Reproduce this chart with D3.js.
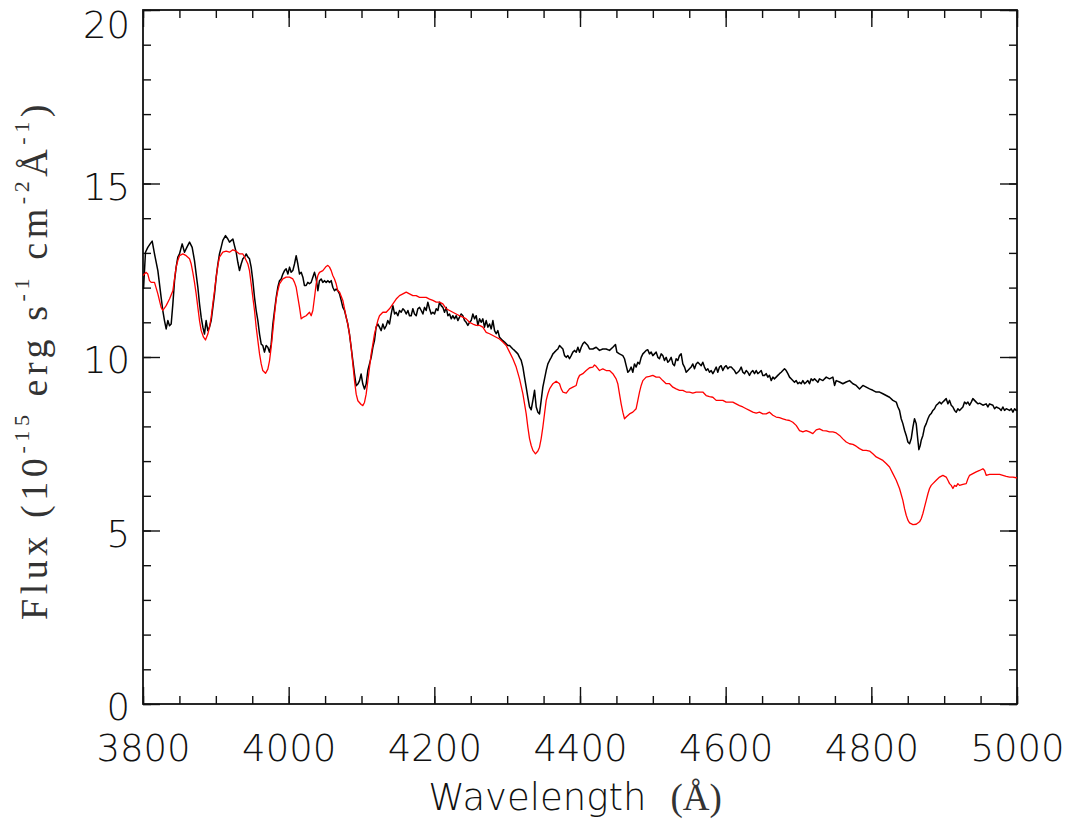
<!DOCTYPE html>
<html><head><meta charset="utf-8">
<script src="https://cdn.jsdelivr.net/npm/d3@7"></script>
<style>body{margin:0;background:#fff}svg{display:block}</style>
</head><body>
<svg id="chart" width="1077" height="827"></svg>
<script>
// ---- data (wavelength in Å, flux in 1e-15 erg s^-1 cm^-2 Å^-1) ----
const blackWave = [3800.7,3803.4,3806.6,3809.8,3812.6,3815.8,3820.4,3824.9,3827.2,3829.5,3831.8,3834.1,3836.4,3838.7,3841.0,3843.3,3845.5,3847.8,3850.1,3853.8,3857.0,3860.2,3863.9,3867.5,3870.7,3873.0,3875.3,3877.6,3879.9,3882.2,3884.4,3886.7,3889.0,3891.3,3893.6,3895.9,3898.2,3900.5,3902.8,3905.0,3907.3,3909.6,3913.3,3916.5,3918.8,3923.4,3925.6,3927.9,3930.2,3932.5,3934.8,3937.1,3939.4,3941.7,3944.0,3946.2,3948.5,3950.8,3953.1,3955.4,3957.7,3960.0,3962.3,3964.5,3966.8,3969.1,3971.4,3973.7,3976.0,3978.3,3980.6,3982.9,3985.1,3987.4,3989.7,3992.0,3994.3,3996.6,3998.9,4001.2,4003.4,4005.7,4008.0,4010.3,4012.6,4014.9,4017.2,4019.5,4021.7,4024.0,4026.3,4028.6,4030.9,4033.2,4035.5,4037.8,4040.1,4042.3,4044.6,4046.9,4049.2,4051.5,4053.8,4056.1,4058.4,4060.6,4062.9,4065.2,4067.5,4069.8,4072.1,4074.4,4076.7,4079.0,4081.2,4083.5,4085.8,4088.1,4090.4,4092.7,4095.0,4097.3,4099.5,4101.8,4104.1,4106.4,4108.7,4111.0,4113.3,4115.6,4117.8,4120.1,4122.4,4124.7,4127.0,4129.3,4131.6,4133.9,4136.1,4138.4,
4140.8,4143.1,4145.4,4147.6,4149.9,4152.2,4154.5,4156.8,4159.1,4161.4,4163.7,4165.9,4168.2,4170.5,4172.8,4175.1,4177.4,4179.7,4182.0,4184.3,4186.5,4188.8,4191.1,4193.4,4195.7,4198.0,4200.3,4202.6,4204.9,4207.1,4209.4,4211.7,4214.0,4216.3,4218.6,4220.9,4223.2,4225.4,4227.7,4230.0,4232.3,4234.6,4236.9,4239.2,4241.5,4243.7,4246.0,4248.3,4250.6,4252.9,4255.2,4257.5,4259.8,4262.1,4264.3,4266.6,4268.9,4271.2,4273.5,4275.8,4278.1,4280.4,4282.7,4284.9,4287.2,4289.5,4291.8,4294.1,4296.4,4298.7,4301.0,4303.3,4305.5,4307.8,4310.1,4312.4,4314.7,4317.0,4319.3,4321.6,4323.8,4326.1,4328.4,4330.7,4333.0,4335.3,4337.6,4339.9,4342.2,4344.4,4346.7,4349.0,4351.3,4353.6,4355.9,4358.2,4360.5,4362.8,4365.0,4367.3,4369.6,4371.9,4374.2,4376.5,4378.8,4381.1,4383.3,4385.6,4387.9,4390.2,4392.5,4394.8,4397.1,4399.4,4401.7,4403.9,4406.2,4408.5,4410.8,4413.1,
4417.6,4422.2,4426.8,4431.3,4435.9,4440.5,4445.1,4448.7,4450.6,4454.2,4458.8,4461.1,4463.4,4465.7,4468.0,4470.2,4472.5,4474.8,4477.1,4479.4,4481.7,4484.0,4486.3,4488.5,4490.8,4493.1,4495.4,4497.7,4500.0,4502.3,4504.6,4506.9,4509.1,4511.4,4513.7,4516.0,4518.3,4520.6,4522.9,4525.2,4527.5,4529.7,4532.0,4534.3,4536.6,4538.9,4541.2,4543.5,4545.8,4548.1,4550.3,4552.6,4554.9,4557.2,4559.5,4561.8,4564.1,4566.4,4568.6,4570.9,4573.2,4575.5,4577.8,4580.1,4582.4,4584.7,4587.0,4589.2,4591.5,4593.8,4596.1,4598.4,4600.7,4603.0,4605.3,4607.6,4609.8,4612.1,4614.4,4616.7,4619.0,4621.3,4623.6,4625.9,4628.2,4630.4,4632.7,4635.0,4637.3,4639.6,4641.9,4644.2,4646.5,4648.8,4651.0,4653.3,4655.6,4657.9,4660.2,4662.5,4664.8,4667.1,4669.3,4671.6,4673.9,4676.2,4678.5,4680.8,4683.1,4685.4,4687.7,4689.9,4692.2,4694.5,4696.8,4699.1,4701.4,4703.7,4706.0,4708.3,4710.5,4712.8,4715.1,4717.4,4719.7,4722.0,4724.3,4726.6,4728.8,
4733.5,4738.1,4742.6,4747.2,4749.5,4751.8,4756.4,4760.9,4765.5,4770.1,4774.7,4779.2,4783.8,4788.4,4793.0,4797.6,4802.1,4806.7,4811.3,4815.9,4820.4,4825.0,4829.6,4834.2,4836.5,4838.7,4841.0,4843.3,4845.6,4847.9,4850.2,4852.5,4854.8,4857.1,4859.3,4861.6,4863.9,4865.3,4867.1,4868.5,4870.8,4873.1,4875.4,4877.7,4879.9,4882.2,4884.5,4886.8,4889.1,4891.4,4893.7,4896.0,4898.2,4900.5,4902.8,4905.1,4907.4,4909.7,4912.0,4914.3,4916.6,4918.8,4921.1,4923.4,4925.7,4928.0,4930.3,4932.6,4934.9,4937.2,4939.4,4941.7,4944.0,4946.3,4948.6,4953.2,4957.7,4960.0,4962.3,4966.9,4969.2,4971.5,4976.1,4978.3,4980.6,4982.9,4985.2,4989.8,4992.1,4994.4,4996.7,4998.9,5000.0];
const blackFlux = [11.96,13.02,13.16,13.26,13.34,12.97,12.49,11.72,11.34,11.05,10.81,11.05,10.90,10.95,11.53,12.20,12.59,12.88,12.97,13.26,13.02,13.16,13.31,13.16,12.78,12.39,12.01,11.53,11.14,10.86,10.66,11.05,10.76,10.86,11.05,11.43,11.82,12.30,12.68,12.97,13.16,13.36,13.50,13.40,13.31,13.40,13.21,13.02,12.73,12.49,12.68,12.83,12.88,12.97,12.88,12.83,12.59,12.20,11.72,11.34,11.05,10.66,10.37,10.33,10.14,10.33,10.28,10.14,10.37,10.95,11.34,11.72,12.01,12.20,12.25,12.39,12.49,12.54,12.39,12.59,12.44,12.49,12.68,12.92,12.68,12.39,12.44,12.30,12.06,12.06,12.15,12.11,12.15,12.30,12.44,12.25,11.91,12.20,12.25,12.15,12.20,12.15,12.20,12.15,12.20,12.01,11.91,11.96,11.91,11.82,11.63,11.43,11.34,11.14,10.95,10.66,10.28,9.89,9.51,9.17,9.22,9.32,9.51,9.22,9.08,9.22,9.61,9.80,9.99,10.28,10.47,10.86,10.95,10.86,10.76,10.95,10.81,10.90,11.05,10.95,
11.24,11.48,11.24,11.29,11.19,11.34,11.29,11.39,11.34,11.24,11.34,11.19,11.19,11.39,11.24,11.19,11.39,11.43,11.34,11.24,11.43,11.34,11.58,11.39,11.24,11.29,11.24,11.39,11.34,11.58,11.48,11.43,11.29,11.43,11.19,11.24,11.10,11.19,11.10,11.19,11.05,11.15,11.24,11.19,11.05,11.00,10.91,11.00,11.05,11.24,11.10,11.19,10.91,11.10,11.00,11.10,10.86,11.05,10.86,10.95,10.81,11.05,10.76,10.67,10.76,10.57,10.52,10.47,10.43,10.38,10.33,10.33,10.28,10.23,10.19,10.14,10.09,9.99,9.90,9.71,9.42,9.13,8.84,8.56,8.48,8.75,9.04,8.56,8.41,8.36,8.75,9.13,9.37,9.61,9.80,9.90,9.99,10.09,10.14,10.19,10.23,10.33,10.28,10.23,10.04,9.99,10.04,9.95,10.04,10.14,10.19,10.14,10.28,10.14,10.28,10.38,10.43,10.38,10.33,10.23,
10.23,10.28,10.19,10.23,10.23,10.19,10.28,10.36,10.14,10.09,10.04,9.95,9.75,9.56,9.61,9.71,9.56,9.80,9.71,9.85,9.80,9.99,10.09,10.14,10.19,10.21,10.09,10.14,10.04,10.09,10.14,9.99,9.95,10.09,10.04,9.90,9.99,9.85,9.90,9.99,9.80,9.75,9.95,9.90,10.04,10.09,9.80,9.71,9.56,9.61,9.66,9.71,9.80,9.66,9.80,9.85,9.80,9.75,9.85,9.71,9.61,9.66,9.56,9.61,9.52,9.61,9.71,9.56,9.71,9.75,9.61,9.71,9.75,9.66,9.71,9.71,9.66,9.61,9.52,9.56,9.61,9.71,9.56,9.52,9.61,9.56,9.47,9.56,9.61,9.52,9.61,9.52,9.56,9.61,9.47,9.47,9.52,9.42,9.47,9.32,9.42,9.37,9.42,9.47,9.52,9.56,9.61,9.66,9.61,9.52,9.42,9.37,9.32,9.27,9.32,9.23,9.27,9.23,9.32,9.23,9.27,9.32,9.23,9.37,9.32,9.37,9.32,9.27,9.37,
9.32,9.42,9.37,9.42,9.18,9.32,9.28,9.23,9.28,9.32,9.23,9.18,9.08,9.18,9.13,9.08,9.04,8.99,8.99,8.94,8.89,8.84,8.75,8.70,8.56,8.46,8.22,8.08,7.89,7.74,7.55,7.50,7.65,7.98,8.22,8.08,7.60,7.33,7.45,7.60,7.74,7.98,8.08,8.22,8.32,8.37,8.46,8.51,8.61,8.65,8.70,8.65,8.70,8.75,8.80,8.65,8.75,8.61,8.56,8.46,8.41,8.51,8.46,8.51,8.56,8.70,8.65,8.70,8.61,8.70,8.80,8.75,8.70,8.65,8.67,8.61,8.65,8.56,8.65,8.61,8.51,8.56,8.51,8.46,8.56,8.46,8.51,8.46,8.51,8.41,8.51,8.46,8.48];

const redWave = [3800.0,3804.3,3806.6,3808.9,3811.2,3815.8,3820.4,3824.9,3827.2,3831.8,3836.4,3841.0,3843.3,3845.5,3847.8,3850.1,3854.7,3859.3,3863.9,3866.2,3868.4,3870.7,3873.0,3875.3,3877.6,3879.9,3883.1,3885.8,3889.0,3891.3,3893.6,3895.9,3898.2,3900.5,3902.8,3905.0,3909.6,3914.2,3918.8,3923.4,3927.9,3932.5,3937.1,3939.4,3944.0,3946.2,3948.5,3950.8,3953.1,3955.4,3957.7,3960.0,3962.3,3964.5,3968.2,3971.4,3973.7,3976.0,3978.3,3980.6,3982.9,3985.1,3987.4,3992.0,3996.6,4001.2,4005.7,4008.0,4010.3,4012.6,4014.9,4017.2,4019.5,4024.0,4028.6,4030.9,4033.2,4035.5,4037.8,4040.1,4042.3,4046.9,4051.5,4053.8,4056.1,4058.4,4060.6,4062.9,4065.2,4067.5,4069.8,4074.4,4079.0,4081.2,4083.5,4085.8,4088.1,4090.4,4092.7,4095.0,4099.5,4101.8,4104.1,4106.4,4108.7,4111.0,4113.3,4115.6,4117.8,4120.1,4122.4,4124.7,4129.3,4133.9,4138.4,
4143.1,4147.6,4152.2,4156.8,4161.4,4165.9,4170.5,4175.1,4179.7,4184.3,4188.8,4193.4,4198.0,4202.6,4207.1,4211.7,4216.3,4220.9,4225.4,4230.0,4234.6,4239.2,4243.7,4248.3,4252.9,4257.5,4262.1,4266.6,4271.2,4275.8,4280.4,4284.9,4289.5,4294.1,4298.7,4303.3,4307.8,4312.4,4317.0,4321.6,4326.1,4328.4,4330.7,4333.0,4335.3,4338.9,4342.2,4344.4,4346.7,4349.0,4351.3,4353.6,4355.9,4358.2,4362.8,4367.3,4371.9,4374.2,4376.5,4381.1,4385.6,4390.2,4394.8,4397.1,4399.4,4403.9,4408.5,4413.1,
4417.6,4419.9,4422.2,4426.8,4431.3,4435.9,4440.5,4445.1,4449.6,4451.9,4454.2,4456.5,4458.8,4461.1,4463.4,4468.0,4472.5,4477.1,4479.4,4481.7,4484.0,4486.3,4490.8,4495.4,4500.0,4504.6,4509.1,4513.7,4518.3,4522.9,4527.5,4532.0,4536.6,4541.2,4545.8,4550.3,4554.9,4559.5,4564.1,4568.6,4573.2,4577.8,4582.4,4587.0,4591.5,4596.1,4600.7,4605.3,4609.8,4614.4,4619.0,4623.6,4628.2,4632.7,4637.3,4641.9,4646.5,4651.0,4655.6,4660.2,4664.8,4669.3,4673.9,4678.5,4683.1,4687.7,4692.2,4696.8,4701.4,4706.0,4710.5,4715.1,4719.7,4724.3,4728.8,
4733.5,4738.1,4742.6,4747.2,4751.8,4756.4,4760.9,4765.5,4770.1,4774.7,4779.2,4783.8,4788.4,4793.0,4797.6,4802.1,4806.7,4811.3,4815.9,4820.4,4825.0,4829.6,4834.2,4838.7,4843.3,4845.6,4847.9,4850.2,4852.5,4857.1,4861.6,4866.2,4868.5,4870.8,4873.1,4875.4,4877.7,4879.9,4882.2,4884.5,4889.1,4893.7,4898.2,4902.8,4905.1,4907.4,4909.7,4912.0,4914.3,4916.6,4918.8,4921.1,4925.7,4930.3,4932.6,4934.9,4939.4,4944.0,4948.6,4953.2,4955.5,4957.7,4962.3,4966.9,4971.5,4976.1,4980.6,4985.2,4989.8,4994.4,4998.9,5000.0];
const redFlux = [12.35,12.44,12.39,12.20,12.15,12.15,11.82,11.43,11.34,11.48,11.67,11.91,12.25,12.59,12.78,12.92,12.97,12.92,12.83,12.68,12.44,12.15,11.82,11.43,11.05,10.76,10.57,10.49,10.66,10.86,11.14,11.53,11.91,12.30,12.64,12.88,13.02,13.05,13.02,13.09,13.05,12.97,12.97,12.88,12.68,12.49,12.11,11.72,11.34,10.86,10.47,10.09,9.80,9.61,9.53,9.65,9.89,10.28,10.76,11.24,11.67,11.91,12.11,12.25,12.30,12.30,12.25,12.15,12.01,11.72,11.43,11.10,11.14,11.19,11.29,11.19,11.34,11.72,12.11,12.35,12.44,12.49,12.61,12.64,12.59,12.49,12.35,12.25,12.11,11.91,11.87,11.63,11.14,10.95,10.66,10.28,9.80,9.32,8.93,8.74,8.63,8.60,8.69,8.93,9.32,9.70,10.09,10.37,10.66,10.86,11.05,11.19,11.29,11.29,11.39,
11.53,11.67,11.77,11.82,11.87,11.82,11.77,11.77,11.72,11.72,11.72,11.67,11.63,11.58,11.58,11.53,11.39,11.34,11.29,11.24,11.19,11.15,11.10,11.00,10.95,10.91,10.91,10.86,10.71,10.67,10.62,10.57,10.52,10.43,10.33,10.14,9.95,9.71,9.37,8.94,8.37,7.98,7.65,7.45,7.31,7.21,7.29,7.40,7.65,7.98,8.37,8.75,8.94,9.08,9.23,9.30,9.23,9.08,8.99,8.96,9.08,9.13,9.18,9.37,9.47,9.52,9.61,9.69,
9.71,9.77,9.73,9.61,9.66,9.61,9.61,9.52,9.37,9.23,8.94,8.65,8.41,8.22,8.27,8.36,8.41,8.51,8.75,8.99,9.18,9.32,9.42,9.44,9.47,9.42,9.42,9.32,9.23,9.23,9.13,9.08,9.04,9.04,8.99,8.99,8.96,8.99,8.99,8.99,8.89,8.86,8.84,8.75,8.75,8.75,8.70,8.70,8.70,8.65,8.60,8.56,8.51,8.46,8.41,8.38,8.41,8.36,8.36,8.41,8.32,8.27,8.25,8.22,8.19,8.17,8.12,8.03,7.88,7.84,7.88,7.84,7.79,7.90,7.93,
7.88,7.87,7.84,7.84,7.81,7.74,7.64,7.55,7.50,7.48,7.43,7.36,7.31,7.31,7.29,7.21,7.12,7.07,7.02,6.93,6.83,6.64,6.45,6.21,5.87,5.63,5.44,5.30,5.22,5.17,5.18,5.25,5.34,5.49,5.68,5.87,6.06,6.21,6.30,6.35,6.45,6.54,6.59,6.54,6.45,6.35,6.30,6.21,6.30,6.27,6.35,6.30,6.33,6.35,6.49,6.59,6.64,6.69,6.73,6.78,6.73,6.59,6.62,6.62,6.62,6.62,6.59,6.56,6.54,6.54,6.52,6.52];

const xDomain = [3800, 5000];
const yDomain = [0, 20];
const xMajorTicks = [3800, 4000, 4200, 4400, 4600, 4800, 5000];
const yMajorTicks = [0, 5, 10, 15, 20];
const xMinorStep = 50;
const yMinorStep = 1;
const xTitle = "Wavelength";
const xTitleUnit = "(Å)";

// ---- layout ----
const svg = d3.select("#chart");
const plot = {left: 143, right: 1017, top: 10, bottom: 704};
const x = d3.scaleLinear().domain(xDomain).range([plot.left, plot.right]);
const y = d3.scaleLinear().domain(yDomain).range([plot.bottom, plot.top]);
const labelFont = "'DejaVu Sans', 'Noto Sans', sans-serif";
const serifFont = "'Liberation Serif', 'DejaVu Serif', serif";
const ink = "#111";

const xMinorTicks = d3.range(xDomain[0], xDomain[1] + 1, xMinorStep);
const yMinorTicks = d3.range(yDomain[0], yDomain[1] + 1, yMinorStep);

function styleAxis(g) {
  g.select(".domain").remove();
  g.selectAll(".tick line").attr("stroke", ink).attr("stroke-width", 1.4);
}
// minor ticks on all sides
svg.append("g").attr("transform", `translate(0,${plot.bottom})`)
  .call(d3.axisBottom(x).tickValues(xMinorTicks).tickSize(-8).tickFormat("")).call(styleAxis);
svg.append("g").attr("transform", `translate(0,${plot.top})`)
  .call(d3.axisTop(x).tickValues(xMinorTicks).tickSize(-8).tickFormat("")).call(styleAxis);
svg.append("g").attr("transform", `translate(${plot.left},0)`)
  .call(d3.axisLeft(y).tickValues(yMinorTicks).tickSize(-8).tickFormat("")).call(styleAxis);
svg.append("g").attr("transform", `translate(${plot.right},0)`)
  .call(d3.axisRight(y).tickValues(yMinorTicks).tickSize(-8).tickFormat("")).call(styleAxis);

// major ticks
const gx = svg.append("g").attr("transform", `translate(0,${plot.bottom})`)
  .call(d3.axisBottom(x).tickValues(xMajorTicks).tickSize(-17).tickPadding(31).tickFormat(d3.format("d")))
  .call(styleAxis);
svg.append("g").attr("transform", `translate(0,${plot.top})`)
  .call(d3.axisTop(x).tickValues(xMajorTicks).tickSize(-17).tickFormat("")).call(styleAxis);
const gy = svg.append("g").attr("transform", `translate(${plot.left},0)`)
  .call(d3.axisLeft(y).tickValues(yMajorTicks).tickSize(-17).tickPadding(13).tickFormat(d3.format("d")))
  .call(styleAxis);
svg.append("g").attr("transform", `translate(${plot.right},0)`)
  .call(d3.axisRight(y).tickValues(yMajorTicks).tickSize(-17).tickFormat("")).call(styleAxis);

[gx, gy].forEach(g => g.attr("font-family", null).attr("font-size", null));
gx.selectAll(".tick text").attr("font-family", labelFont).attr("font-weight", 200)
  .attr("font-size", 37).attr("fill", ink);
gy.selectAll(".tick text").attr("font-family", labelFont).attr("font-weight", 200)
  .attr("font-size", 37).attr("fill", ink)
  .attr("dy", d => d === yDomain[1] ? "0.74em" : "0.42em");

// frame
svg.append("rect").attr("x", plot.left).attr("y", plot.top)
  .attr("width", plot.right - plot.left).attr("height", plot.bottom - plot.top)
  .attr("fill", "none").attr("stroke", ink).attr("stroke-width", 1.8);

// spectra
const line = d3.line().x(d => x(d[0])).y(d => y(d[1]));
const blackData = blackWave.map((w, i) => [w, blackFlux[i]]);
const redData = redWave.map((w, i) => [w, redFlux[i]]);
svg.append("path").datum(blackData).attr("d", line)
  .attr("fill", "none").attr("stroke", "#000").attr("stroke-width", 1.5).attr("stroke-linejoin", "round");
svg.append("path").datum(redData).attr("d", line)
  .attr("fill", "none").attr("stroke", "#ff0000").attr("stroke-width", 1.3).attr("stroke-linejoin", "round");

// x title
const xt = svg.append("text").attr("x", 575).attr("y", 810).attr("text-anchor", "middle")
  .attr("fill", ink).attr("font-size", 37);
xt.append("tspan").attr("font-family", labelFont).attr("font-weight", 200).text(xTitle);
xt.append("tspan").attr("dx", 24).attr("font-family", serifFont).attr("fill", "#333").text(xTitleUnit);

// y title
const yt = svg.append("text").attr("transform", "translate(47,360) rotate(-90)")
  .attr("text-anchor", "middle").attr("fill", "#333").attr("font-family", serifFont).attr("font-size", 38);
const parts = [
  ["Flux (10", false], ["-15", true], [" erg s", false], ["-1", true],
  [" cm", false], ["-2", true], ["Å", false], ["-1", true], [")", false]
];
let raised = false;
parts.forEach(([t, sup]) => {
  const ts = yt.append("tspan").text(t);
  if (sup) { ts.attr("font-size", 22).attr("dy", raised ? 0 : -18); raised = true; }
  else { ts.attr("dy", raised ? 18 : 0); raised = false; }
});
const targetLen = 520;
const curLen = yt.node().getComputedTextLength();
const nChars = parts.map(p => p[0]).join("").length;
yt.attr("letter-spacing", ((targetLen - curLen) / nChars).toFixed(2));
</script>
</body></html>
